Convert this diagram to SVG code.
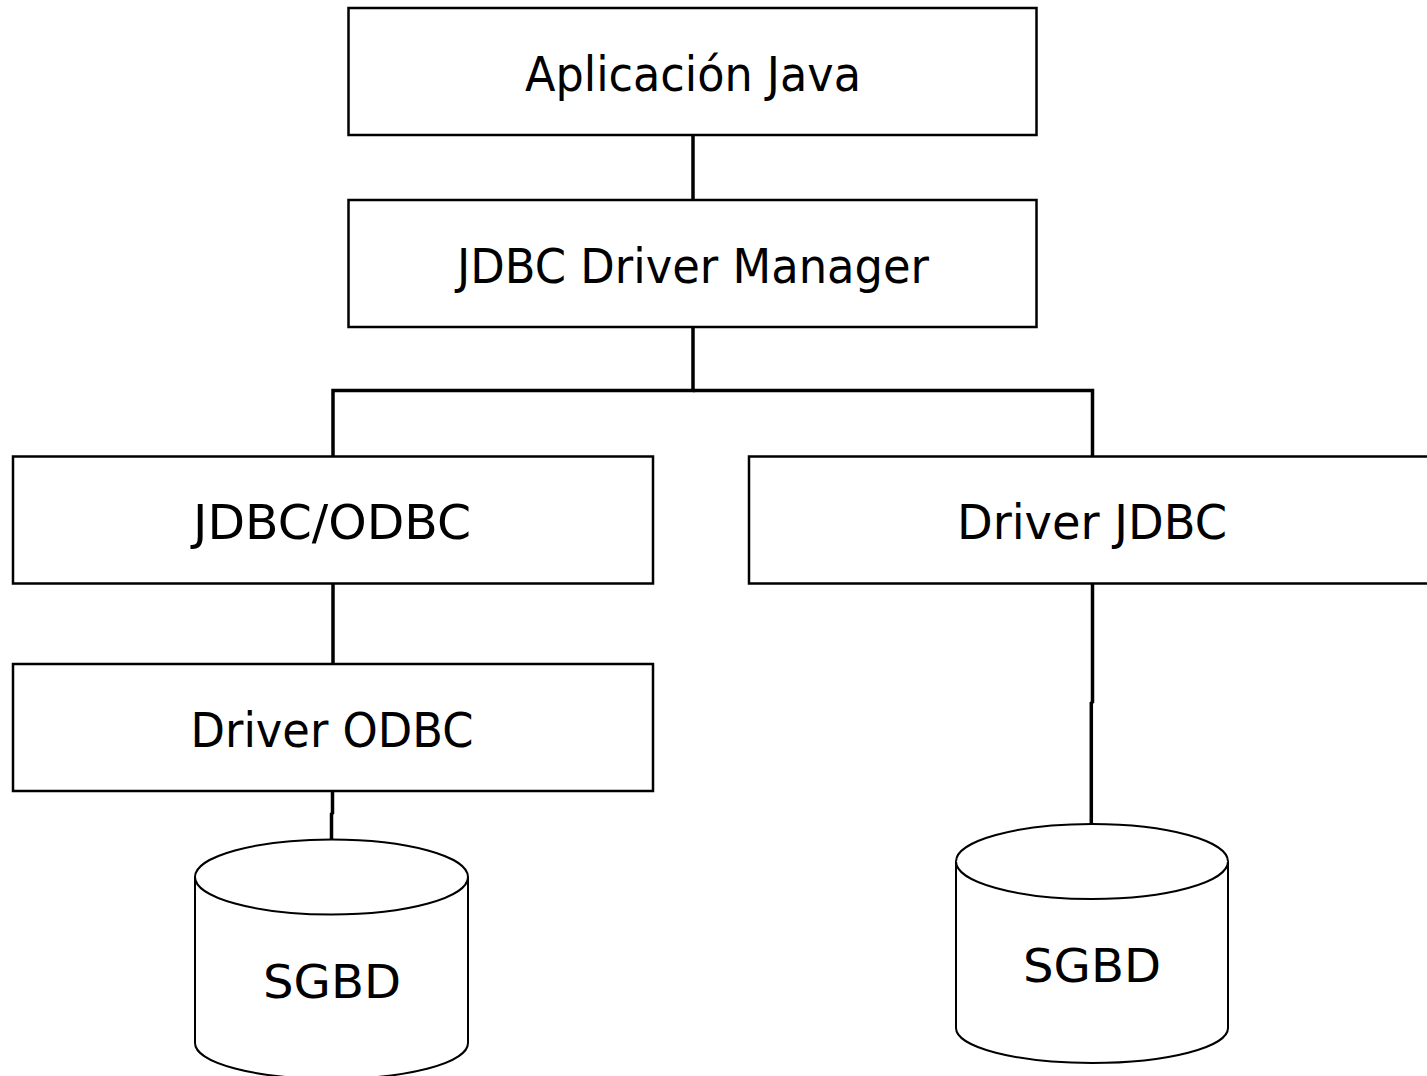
<svg xmlns="http://www.w3.org/2000/svg" width="1427" height="1076" viewBox="0 0 1427 1076">
<style>
.box{fill:#fff;stroke:#000;stroke-width:2.5}
.lbl{font-family:"DejaVu Sans",Verdana,sans-serif;font-size:48px;text-anchor:middle;fill:#000}
.db{fill:#fff;stroke:#000;stroke-width:2}
.dbl{font-family:"DejaVu Sans",Verdana,sans-serif;font-size:46px;text-anchor:middle;fill:#000}
.con{fill:none;stroke:#000;stroke-width:3.5}
</style>
<rect width="1427" height="1076" fill="#fff"/>
<g id="connectors">
<line class="con" x1="693" y1="135" x2="693" y2="200"/>
<polyline class="con" points="693,327 693,390.5 333,390.5 333,457"/>
<polyline class="con" points="693,390.5 1092.5,390.5 1092.5,457"/>
<line class="con" x1="333" y1="583" x2="333" y2="664"/>
<polyline class="con" points="332.5,791 332.5,813 331.5,814 331.5,840"/>
<polyline class="con" points="1092.5,583 1092.5,702 1091.3,703 1091.3,824"/>
</g>
<g id="aplicacion">
<rect class="box" x="348.5" y="8" width="688" height="127"/>
<text class="lbl" x="693" y="91" textLength="336" lengthAdjust="spacingAndGlyphs">Aplicación Java</text>
</g>
<g id="manager">
<rect class="box" x="348.5" y="200" width="688" height="127"/>
<text class="lbl" x="693" y="283" textLength="472" lengthAdjust="spacingAndGlyphs">JDBC Driver Manager</text>
</g>
<g id="jdbcodbc">
<rect class="box" x="13" y="456.5" width="640" height="127"/>
<text class="lbl" x="332" y="539" textLength="278" lengthAdjust="spacingAndGlyphs">JDBC/ODBC</text>
</g>
<g id="driverjdbc">
<rect class="box" x="749" y="456.5" width="690" height="127"/>
<text class="lbl" x="1092" y="539" textLength="270" lengthAdjust="spacingAndGlyphs">Driver JDBC</text>
</g>
<g id="driverodbc">
<rect class="box" x="13" y="664" width="640" height="127"/>
<text class="lbl" x="332" y="747" textLength="283" lengthAdjust="spacingAndGlyphs">Driver ODBC</text>
</g>
<g id="sgbd1">
<path class="db" d="M195,877 L195,1043 A136.5,36 0 0 0 468,1043 L468,877 A136.5,37.5 0 0 0 195,877 Z"/>
<path class="db" d="M195,877 A136.5,37.5 0 0 0 468,877"/>
<text class="dbl" x="332" y="998" textLength="138" lengthAdjust="spacingAndGlyphs">SGBD</text>
</g>
<g id="sgbd2">
<path class="db" d="M956,861.5 L956,1028 A136,35 0 0 0 1228,1028 L1228,861.5 A136,37.5 0 0 0 956,861.5 Z"/>
<path class="db" d="M956,861.5 A136,37.5 0 0 0 1228,861.5"/>
<text class="dbl" x="1092" y="982" textLength="138" lengthAdjust="spacingAndGlyphs">SGBD</text>
</g>
</svg>
